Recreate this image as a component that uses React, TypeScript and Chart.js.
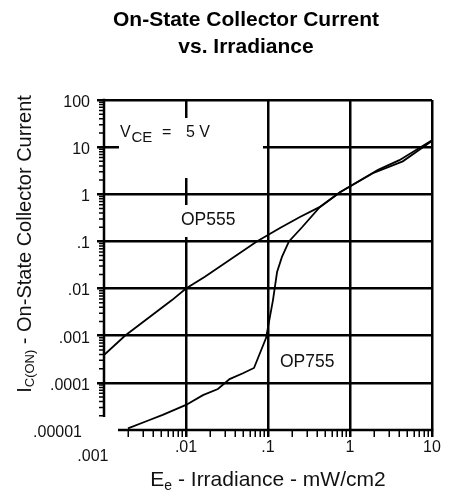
import React, { useEffect, useRef } from 'react';
import { Chart, registerables } from 'chart.js';

Chart.register(...registerables);

// ---- data (log-log) ----
const op555X = [0.001, 0.0018, 0.00675, 0.01, 0.017, 0.073, 0.14, 0.245, 0.43, 0.755, 1.9, 4.4, 10];
const op555Y = [0.00039, 0.001, 0.0057, 0.01, 0.0179, 0.1, 0.193, 0.33, 0.54, 1.1, 2.8, 5.0, 13.5];

const op755X = [0.00196, 0.00334, 0.0052, 0.01, 0.0161, 0.0245, 0.034, 0.0495, 0.0675, 0.0946, 0.115, 0.129, 0.148, 0.18, 0.26, 0.43, 0.755, 2.2, 4.0, 10];
const op755Y = [0.0000108, 0.0000155, 0.000021, 0.000034, 0.000055, 0.000074, 0.00012, 0.00016, 0.000207, 0.00089, 0.0057, 0.0224, 0.047, 0.1, 0.2, 0.54, 1.1, 3.3, 5.3, 14];

const xTickValues = [0.001, 0.01, 0.1, 1, 10];
const xTickLabels = ['.001', '.01', '.1', '1', '10'];
const yTickValues = [0.00001, 0.0001, 0.001, 0.01, 0.1, 1, 10, 100];
const yTickLabels = ['.00001', '.0001', '.001', '.01', '.1', '1', '10', '100'];

const FONT = '"Liberation Sans", Arial, Helvetica, sans-serif';
const TEXT = '#111';
const TRANSPARENT = 'rgba(0,0,0,0)';

const near = (a: number, b: number) => Math.abs(Math.log10(a) - Math.log10(b)) < 1e-6;
const isDecade = (v: number) => Math.abs(Math.log10(v) - Math.round(Math.log10(v))) < 1e-6;
const labelFor = (vals: number[], labels: string[], v: number) => {
  const i = vals.findIndex((t) => near(t, v));
  return i >= 0 ? labels[i] : '';
};
const buildLogTicks = (decades: number[]) => {
  const out: { value: number }[] = [];
  for (let i = 0; i < decades.length - 1; i++) {
    for (let m = 1; m <= 9; m++) out.push({ value: Number((m * decades[i]).toPrecision(8)) });
  }
  out.push({ value: decades[decades.length - 1] });
  return out;
};

const decor = {
  id: 'decor',
  afterLayout(chart: any) {
    // let the y tick labels extend into the left padding without being clipped
    chart.scales.y.left = 0;
  },
  beforeDatasetsDraw(chart: any) {
    const { ctx, chartArea: a, scales } = chart;
    const ys = scales.y;
    ctx.save();
    // white label backgrounds (interrupt grid lines as in the reference)
    ctx.fillStyle = '#fff';
    ctx.fillRect(a.left + 15, a.top + 18, 144, 60);
    ctx.fillRect(a.left + 72, a.top + 105, 66, 32);
    // axis lines (open corner)
    ctx.strokeStyle = '#000';
    ctx.lineWidth = 2.5;
    ctx.beginPath();
    ctx.moveTo(a.left, a.top - 1.25);
    ctx.lineTo(a.left, a.bottom - 13);
    ctx.moveTo(a.left + 14, a.bottom);
    ctx.lineTo(a.right + 1.25, a.bottom);
    ctx.stroke();
    // minor ticks on the y axis
    ctx.lineWidth = 1.5;
    ctx.beginPath();
    ys.ticks.forEach((t: any) => {
      if (!isDecade(t.value)) {
        const py = ys.getPixelForValue(t.value);
        ctx.moveTo(a.left - 5, py);
        ctx.lineTo(a.left, py);
      }
    });
    ctx.stroke();
    ctx.restore();
  },
  afterDatasetsDraw(chart: any) {
    const { ctx, chartArea: a } = chart;
    ctx.save();
    ctx.fillStyle = TEXT;
    ctx.textAlign = 'left';
    ctx.textBaseline = 'alphabetic';
    // V_CE = 5 V
    ctx.font = `16px ${FONT}`;
    ctx.fillText('V', a.left + 16, a.top + 37);
    ctx.font = `15px ${FONT}`;
    ctx.fillText('CE', a.left + 27.5, a.top + 42);
    ctx.font = `16px ${FONT}`;
    ctx.fillText('=', a.left + 58, a.top + 37);
    ctx.fillText('5 V', a.left + 82, a.top + 37);
    // curve labels
    ctx.font = `17.5px ${FONT}`;
    ctx.fillText('OP555', a.left + 77, a.top + 124.5);
    ctx.fillText('OP755', a.left + 176, a.top + 266.5);

    // x axis title: E_e - Irradiance - mW/cm2
    const big = `21px ${FONT}`;
    const small = `14px ${FONT}`;
    const rest = ' - Irradiance - mW/cm2';
    ctx.font = big;
    const wE = ctx.measureText('E').width;
    const wR = ctx.measureText(rest).width;
    ctx.font = small;
    const we = ctx.measureText('e').width;
    let x = (a.left + a.right) / 2 - (wE + we + wR) / 2;
    const by = a.bottom + 56;
    ctx.font = big;
    ctx.fillText('E', x, by);
    x += wE;
    ctx.font = small;
    ctx.fillText('e', x, by + 4);
    x += we;
    ctx.font = big;
    ctx.fillText(rest, x, by);

    // y axis title: I_C(ON) - On-State Collector Current
    const yb = `20px ${FONT}`;
    const ysm = `13px ${FONT}`;
    const yrest = ' - On-State Collector Current';
    ctx.font = yb;
    const wI = ctx.measureText('I').width;
    const wYR = ctx.measureText(yrest).width;
    ctx.font = ysm;
    const wSub = ctx.measureText('C(ON)').width;
    ctx.translate(31, 244);
    ctx.rotate(-Math.PI / 2);
    let t = -(wI + wSub + wYR) / 2;
    ctx.font = yb;
    ctx.fillText('I', t, 0);
    t += wI;
    ctx.font = ysm;
    ctx.fillText('C(ON)', t, 2.5);
    t += wSub;
    ctx.font = yb;
    ctx.fillText(yrest, t, 0);
    ctx.restore();
  },
};

export default function App() {
  const ref = useRef<HTMLCanvasElement | null>(null);

  useEffect(() => {
    if (!ref.current) return;
    const gridColor = (skip: number) => (c: any) =>
      c.tick && isDecade(c.tick.value) && !near(c.tick.value, skip) ? '#000' : TRANSPARENT;

    const chart = new Chart(ref.current, {
      type: 'line',
      data: {
        datasets: [
          {
            label: 'OP555',
            data: op555X.map((x, i) => ({ x, y: op555Y[i] })),
            borderColor: '#000',
            borderWidth: 1.8,
            pointRadius: 0,
            tension: 0,
            fill: false,
          },
          {
            label: 'OP755',
            data: op755X.map((x, i) => ({ x, y: op755Y[i] })),
            borderColor: '#000',
            borderWidth: 1.8,
            pointRadius: 0,
            tension: 0,
            fill: false,
          },
        ],
      },
      options: {
        animation: false,
        responsive: false,
        devicePixelRatio: 1,
        layout: { padding: { left: 60, right: 19, top: 0, bottom: 0 } },
        plugins: {
          legend: { display: false },
          tooltip: { enabled: false },
          title: {
            display: true,
            text: ['On-State Collector Current', 'vs. Irradiance'],
            color: '#000',
            font: { family: FONT, size: 21, weight: 'bold', lineHeight: 1.262 },
            padding: { top: 7, bottom: 40 },
          },
        },
        scales: {
          x: {
            type: 'logarithmic',
            position: 'bottom',
            min: xTickValues[0],
            max: xTickValues[xTickValues.length - 1],
            border: { display: false },
            afterBuildTicks: (s: any) => {
              s.ticks = buildLogTicks(xTickValues);
            },
            afterFit: (s: any) => {
              s.height = 63;
            },
            grid: {
              color: gridColor(xTickValues[0]),
              lineWidth: 2.5,
              drawTicks: true,
              tickLength: 7,
              tickColor: (c: any) => (c.tick && !near(c.tick.value, xTickValues[0]) ? '#000' : TRANSPARENT),
              tickWidth: (c: any) => (c.tick && isDecade(c.tick.value) ? 2.5 : 1.5),
            },
            ticks: {
              autoSkip: false,
              maxRotation: 0,
              minRotation: 0,
              padding: 6,
              color: TEXT,
              font: { family: FONT, size: 16, lineHeight: 0.5625 },
              callback: (v: any) => {
                const l = labelFor(xTickValues, xTickLabels, Number(v));
                // first label sits lower and slightly left, as in the reference
                return near(Number(v), xTickValues[0]) ? ['', l + '     '] : l;
              },
            },
          },
          y: {
            type: 'logarithmic',
            position: 'left',
            min: yTickValues[0],
            max: yTickValues[yTickValues.length - 1],
            border: { display: false },
            afterBuildTicks: (s: any) => {
              s.ticks = buildLogTicks(yTickValues);
            },
            afterFit: (s: any) => {
              s.width = 44;
            },
            grid: {
              color: gridColor(yTickValues[0]),
              lineWidth: 2.5,
              drawTicks: true,
              tickLength: 7,
              tickColor: (c: any) =>
                c.tick && isDecade(c.tick.value) && !near(c.tick.value, yTickValues[0]) ? '#000' : TRANSPARENT,
              tickWidth: 2.5,
            },
            ticks: {
              autoSkip: false,
              padding: 7,
              color: TEXT,
              font: { family: FONT, size: 16, lineHeight: 0.3125 },
              callback: (v: any) => {
                const l = labelFor(yTickValues, yTickLabels, Number(v));
                if (!l) return '';
                // labels sit a little below their grid line, the lowest one a bit to the left
                return ['', near(Number(v), yTickValues[0]) ? l + '\u2002' : l];
              },
            },
          },
        },
      },
      plugins: [decor],
    } as any);
    return () => chart.destroy();
  }, []);

  return (
    <div style={{ position: 'absolute', left: 0, top: 0, width: 451, height: 493, background: '#fff' }}>
      <canvas ref={ref} width={451} height={493} style={{ display: 'block', width: 451, height: 493 }} />
    </div>
  );
}
